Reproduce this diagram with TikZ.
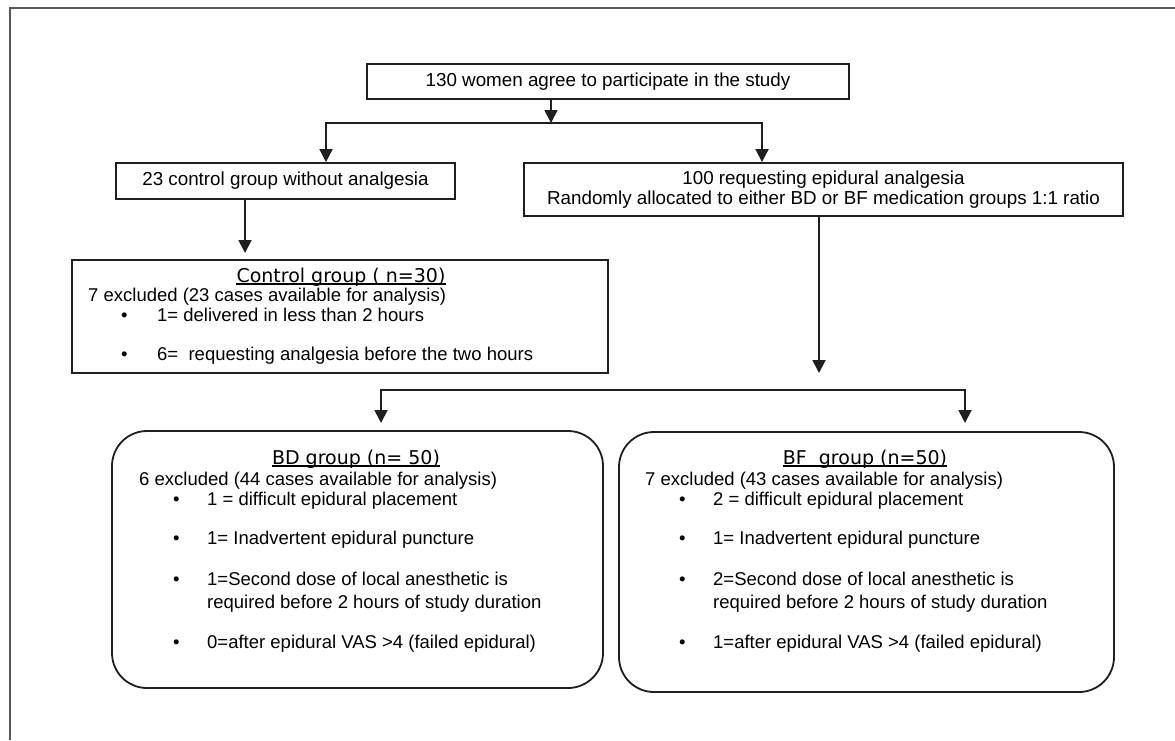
\documentclass[tikz,border=0pt]{standalone}
\usepackage{fontspec}
\setmainfont{Liberation Sans}
\newfontfamily\ttlfont{DejaVu Sans}
\usetikzlibrary{arrows.meta}
\newcommand{\bul}[1]{\makebox[#1][l]{\textbullet}}

\begin{document}
\begin{tikzpicture}[x=1pt,y=-1pt,
	box/.style={draw=black!88,line width=1.8pt,inner sep=0pt,font=\fontsize{18.8}{19.5}\selectfont},
	rbox/.style={box,rounded corners=35pt},
	txt/.style={inner sep=0pt,anchor=base west,font=\fontsize{18.5}{22}\selectfont},
	ttl/.style={inner sep=0pt,anchor=base,font=\ttlfont\fontsize{19}{22}\selectfont},
	arr/.style={draw=black!88,line width=1.8pt,-{Triangle[width=13pt,length=13pt]}},
	uline/.style={line width=1.5pt},
	frame/.style={draw=black!65,line width=2pt}]
	\useasboundingbox (0,0) rectangle (1175,740);
	%%%frame
	\draw[frame] (1175,8) -- (10,8) -- (10,740);
	%%%nodes
	%top
	\node[box,minimum width=482pt,minimum height=35pt] at (608,81.5) (study){130 women agree to participate in the study};
	%level 1
	\node[box,minimum width=339pt,minimum height=36pt] at (285.5,181) (ctrl){23 control group without analgesia};
	\node[box,align=center,minimum width=599pt,minimum height=53pt] at (823.5,189.5) (epi){100 requesting epidural analgesia\\Randomly allocated to either BD or BF medication groups 1:1 ratio};
	%control group
	\node[box,minimum width=536pt,minimum height=113pt] at (340,316.5) (cg){};
	\node[ttl] at (341,282) (cgT){Control group ( n=30)};
	\node[txt] at (88,301) (cgE){7 excluded (23 cases available for analysis)};
	\node[txt] at (121,321) (cg1){\bul{36pt}1= delivered in less than 2 hours};
	\node[txt] at (121,360) (cg2){\bul{36pt}6=\ \ requesting analgesia before the two hours};
	%BD group
	\node[rbox,minimum width=491pt,minimum height=257pt] at (357.5,559.5) (bd){};
	\node[ttl] at (356,464) (bdT){BD group (n= 50)};
	\node[txt] at (139,485) (bdE){6 excluded (44 cases available for analysis)};
	\node[txt] at (173,505) (bd1){\bul{34pt}1 = difficult epidural placement};
	\node[txt] at (173,544) (bd2){\bul{34pt}1= Inadvertent epidural puncture};
	\node[txt] at (173,585) (bd3){\bul{34pt}1=Second dose of local anesthetic is};
	\node[txt] at (207,608) (bd3b){required before 2 hours of study duration};
	\node[txt] at (173,648) (bd4){\bul{34pt}0=after epidural VAS >4 (failed epidural)};
	%BF group
	\node[rbox,minimum width=495pt,minimum height=260pt] at (866.5,562) (bf){};
	\node[ttl] at (865,464) (bfT){BF\ \ group (n=50)};
	\node[txt] at (645,485) (bfE){7 excluded (43 cases available for analysis)};
	\node[txt] at (679,505) (bf1){\bul{34pt}2 = difficult epidural placement};
	\node[txt] at (679,544) (bf2){\bul{34pt}1= Inadvertent epidural puncture};
	\node[txt] at (679,585) (bf3){\bul{34pt}2=Second dose of local anesthetic is};
	\node[txt] at (713,608) (bf3b){required before 2 hours of study duration};
	\node[txt] at (679,648) (bf4){\bul{34pt}1=after epidural VAS >4 (failed epidural)};
	%underlined titles
	\foreach \t in {cgT,bdT,bfT}
		\draw[uline] ([yshift=-2pt]\t.base west) -- ([yshift=-2pt]\t.base east);
	%%%links
	\coordinate (sA) at (551,123);
	\coordinate (sL) at (326,123);
	\coordinate (sR) at (762,123);
	\coordinate (cEnd) at (245,253);
	\coordinate (eEnd) at (819,373);
	\coordinate (hL) at (381,390);
	\coordinate (hR) at (965,390);
	\coordinate (bdIn) at (381,423);
	\coordinate (bfIn) at (965,423);
	%level 1
	\draw[arr] (study.south -| sA) -- (sA);
	\draw[arr] (sR) -- (sL) -- (ctrl.north -| sL);
	\draw[arr] (sL) -- (sR) -- (epi.north -| sR);
	%level 2
	\draw[arr] (ctrl.south -| cEnd) -- (cEnd);
	\draw[arr] (epi.south -| eEnd) -- (eEnd);
	%level 3
	\draw[arr] (hR) -- (hL) -- (bdIn);
	\draw[arr] (hL) -- (hR) -- (bfIn);
\end{tikzpicture}
\end{document}
